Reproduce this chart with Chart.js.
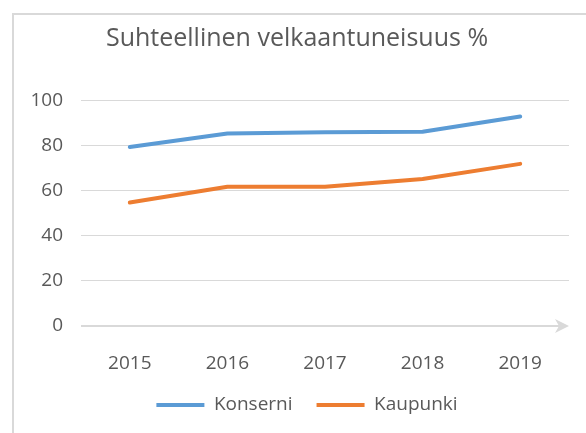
<!DOCTYPE html>
<html>
<head>
<meta charset="utf-8">
<script src="https://cdn.jsdelivr.net/npm/chart.js@4/dist/chart.umd.min.js"></script>
<style>
  body { margin: 0; background: #fff; overflow: hidden; }
  #frame {
    position: absolute; left: 12px; top: 13px;
    width: 600px; height: 430px;
    border: 2px solid #d9d9d9; border-width: 2px 0 0 2px;
  }
  #wrap { position: relative; width: 600px; height: 418px; }
</style>
</head>
<body>
<div id="frame"><div id="wrap"><canvas id="velkaChart"></canvas></div></div>
<script>
const years = ['2015', '2016', '2017', '2018', '2019'];
const konserni = [79.5, 85.5, 86, 86.3, 93];
const kaupunki = [54.8, 61.8, 61.8, 65.3, 72];
const yTicks = [0, 20, 40, 60, 80, 100];

const grey = '#595959';
const gridGrey = '#d9d9d9';
const fontFamily = '"Open Sans", "Noto Sans", sans-serif';

// x axis line with an arrow head at the right end
const axisArrow = {
  id: 'axisArrow',
  afterLayout(chart) {
    // legend sits a bit right of the title in the original
    chart.legend.left += 10;
    chart.legend.right += 10;
  },
  beforeDatasetsDraw(chart) {
    const ctx = chart.ctx;
    const area = chart.chartArea;
    const y = chart.scales.y.getPixelForValue(0);
    ctx.save();
    ctx.strokeStyle = gridGrey;
    ctx.fillStyle = gridGrey;
    ctx.lineWidth = 2;
    ctx.beginPath();
    ctx.moveTo(area.left, y);
    ctx.lineTo(area.right - 6, y);
    ctx.stroke();
    ctx.beginPath();
    ctx.moveTo(area.right, y);
    ctx.lineTo(area.right - 14, y - 7);
    ctx.lineTo(area.right - 10, y);
    ctx.lineTo(area.right - 14, y + 7);
    ctx.closePath();
    ctx.fill();
    ctx.restore();
  }
};

const ctx = document.getElementById('velkaChart').getContext('2d');
new Chart(ctx, {
  type: 'line',
  data: {
    labels: years,
    datasets: [{
      label: 'Konserni',
      data: konserni,
      borderColor: '#5b9bd5',
      backgroundColor: '#5b9bd5',
      borderWidth: 4,
      borderCapStyle: 'round',
      borderJoinStyle: 'round',
      pointRadius: 0,
      tension: 0
    }, {
      label: 'Kaupunki',
      data: kaupunki,
      borderColor: '#ed7d31',
      backgroundColor: '#ed7d31',
      borderWidth: 4,
      borderCapStyle: 'round',
      borderJoinStyle: 'round',
      pointRadius: 0,
      tension: 0
    }]
  },
  options: {
    responsive: true,
    maintainAspectRatio: false,
    animation: false,
    layout: {
      padding: { left: 11, right: 45, top: 0, bottom: 8.5 }
    },
    plugins: {
      title: {
        display: true,
        text: 'Suhteellinen velkaantuneisuus %',
        color: grey,
        font: { family: fontFamily, size: 25, weight: 'normal' },
        padding: { top: 8.4, bottom: 47.4 }
      },
      legend: {
        position: 'bottom',
        labels: {
          usePointStyle: true,
          pointStyle: 'line',
          pointStyleWidth: 48,
          boxHeight: 19,
          padding: 24,
          color: grey,
          font: { family: fontFamily, size: 19 }
        }
      },
      tooltip: { enabled: false }
    },
    scales: {
      x: {
        offset: true,
        grid: { display: false },
        border: { display: false },
        ticks: {
          color: grey,
          padding: 18,
          font: { family: fontFamily, size: 19 }
        },
        afterFit(scale) { scale.height = 45.5; }
      },
      y: {
        min: 0,
        max: 100,
        afterBuildTicks(scale) { scale.ticks = yTicks.map(v => ({ value: v })); },
        grid: {
          color: ctx => ctx.tick && ctx.tick.value === 0 ? 'rgba(0,0,0,0)' : gridGrey,
          lineWidth: 1,
          drawTicks: false
        },
        border: { display: false },
        ticks: {
          color: grey,
          padding: 18,
          font: { family: fontFamily, size: 19 }
        },
        afterFit(scale) { scale.width = 56; }
      }
    }
  },
  plugins: [axisArrow]
});
</script>
</body>
</html>
